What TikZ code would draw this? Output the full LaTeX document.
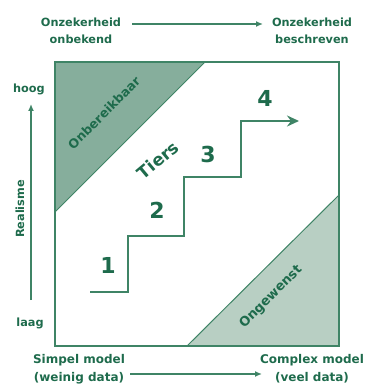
\documentclass[tikz,border=0pt]{standalone}
\usepackage{fontspec}
\setmainfont{DejaVu Sans}
\usetikzlibrary{arrows.meta}
\definecolor{lgreen}{HTML}{3F8466}
\definecolor{tgreen}{HTML}{1E6B4C}
\definecolor{darkfill}{HTML}{86AE9C}
\definecolor{lightfill}{HTML}{B8CFC3}
\tikzset{
  lbl/.style={text=tgreen, font=\bfseries\fontsize{11.3}{17}\selectfont, align=center, inner sep=0pt},
  big/.style={text=tgreen, font=\bfseries\fontsize{22}{24}\selectfont, inner sep=0pt},
  axis/.style={draw=lgreen, line width=1.4pt, -{Latex[length=7pt,width=6pt]}},
  frame/.style={draw=lgreen, line width=1.8pt},
}
\begin{document}
\begin{tikzpicture}[x=1pt,y=-1pt]
\useasboundingbox (0,0) rectangle (365,387);
% triangles
\fill[darkfill] (55,62) -- (205,62) -- (55,212) -- cycle;
\fill[lightfill] (187,346) -- (339,346) -- (339,195) -- cycle;
\draw[lgreen, line width=1pt] (205,62) -- (55,212);
\draw[lgreen, line width=1pt] (187,346) -- (339,195);
\draw[frame] (55,62) rectangle (339,346);
% staircase
\coordinate (s0) at (90,292);
\coordinate (s1) at (128,292);
\coordinate (s2) at (128,236);
\coordinate (s3) at (184,236);
\coordinate (s4) at (184,177);
\coordinate (s5) at (241,177);
\coordinate (s6) at (241,121);
\coordinate (s7) at (299,121);
\draw[draw=lgreen, line width=1.8pt, -{Stealth[length=12pt,width=11pt,inset=4pt]}]
  (s0) -- (s1) -- (s2) -- (s3) -- (s4) -- (s5) -- (s6) -- (s7);
\node[big] (n1) at (108,265) {1};
\node[big] (n2) at (157,210) {2};
\node[big] (n3) at (208,154) {3};
\node[big] (n4) at (265,98) {4};
\node[text=tgreen, font=\bfseries\fontsize{17}{19}\selectfont, rotate=40, inner sep=0pt] (tiers) at (158,160) {Tiers};
\node[text=tgreen, font=\bfseries\fontsize{12.5}{14}\selectfont, rotate=45, inner sep=0pt] (onb) at (104,113) {Onbereikbaar};
\node[text=tgreen, font=\bfseries\fontsize{13}{14}\selectfont, rotate=45, inner sep=0pt] (ong) at (271,297) {Ongewenst};
% top axis
\node[lbl] (tl) at (81,31) {Onzekerheid\\onbekend};
\node[lbl] (tr) at (312,31) {Onzekerheid\\beschreven};
\coordinate (ta) at (132,24);
\coordinate (tb) at (263,24);
\draw[axis] (ta) -- (tb);
% left axis
\node[lbl] (hoog) at (29,89) {hoog};
\node[lbl] (laag) at (30,323) {laag};
\node[lbl, rotate=90] (real) at (20,209) {Realisme};
\coordinate (la) at (31,300);
\coordinate (lb) at (31,104);
\draw[axis] (la) -- (lb);
% bottom axis
\node[lbl, font=\bfseries\fontsize{12}{18}\selectfont] (bl) at (79,369) {Simpel model\\(weinig data)};
\node[lbl, font=\bfseries\fontsize{12}{18}\selectfont] (br) at (312,369) {Complex model\\(veel data)};
\coordinate (ba) at (130,374);
\coordinate (bb) at (262,374);
\draw[axis] (ba) -- (bb);
\end{tikzpicture}
\end{document}
